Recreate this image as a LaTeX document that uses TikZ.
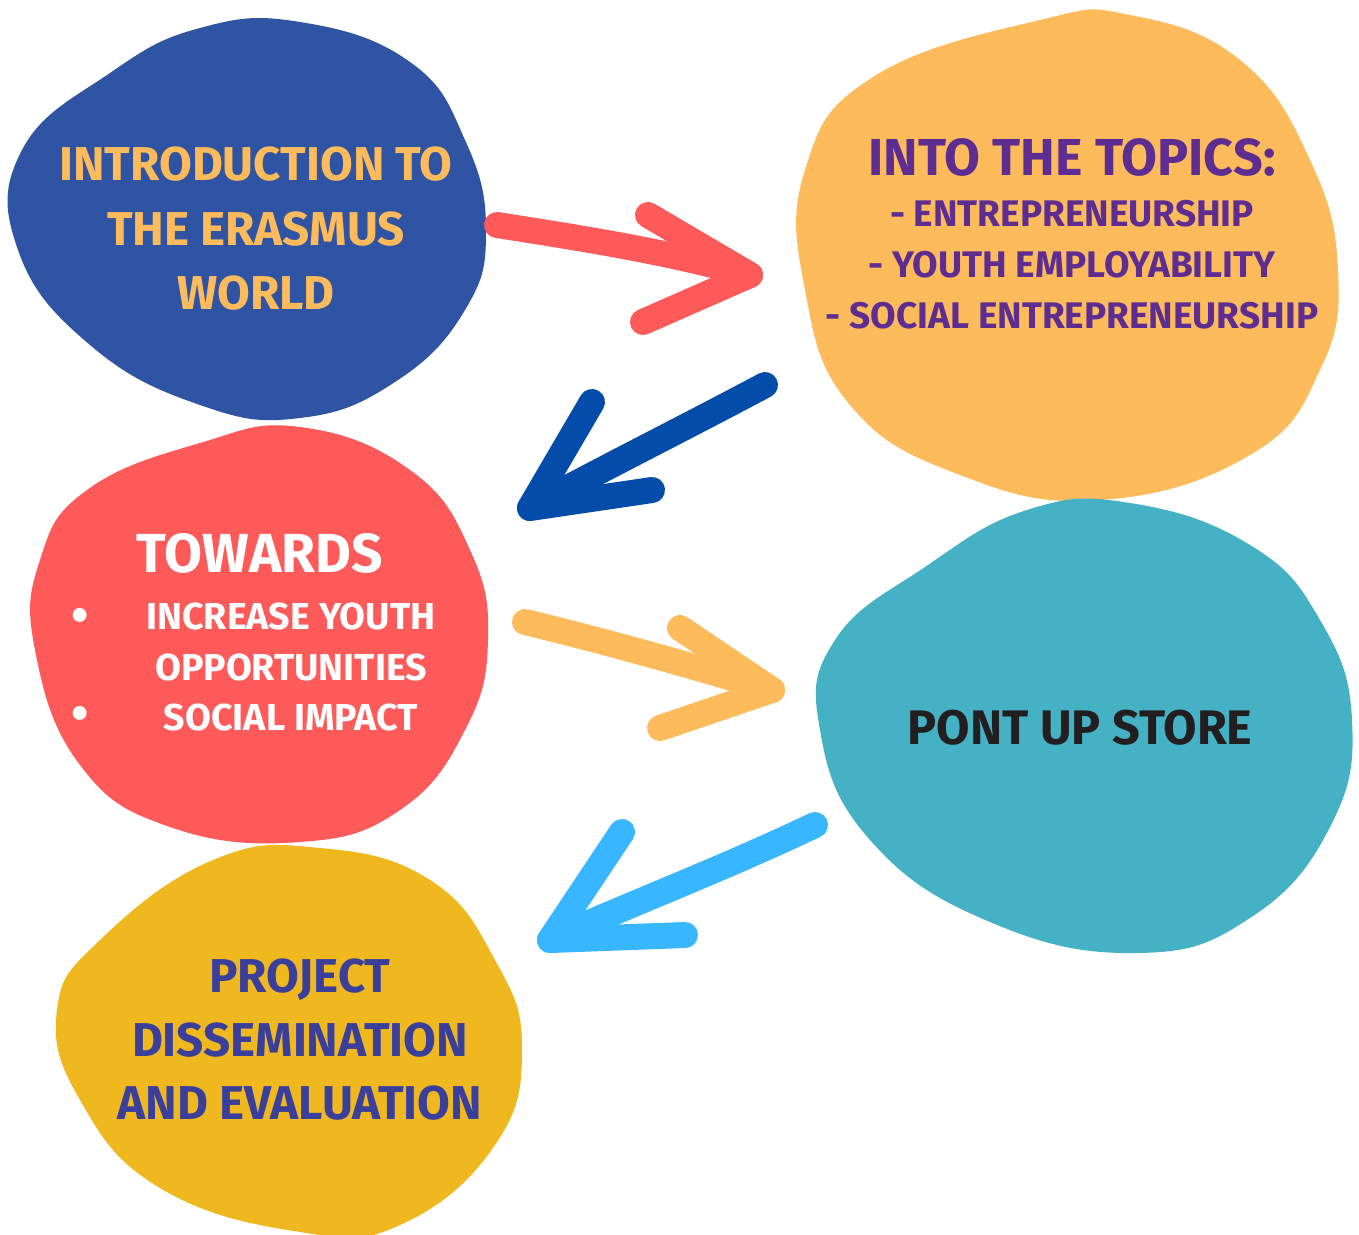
\documentclass[tikz,border=0pt]{standalone}
\usepackage{fontspec}
\setmainfont{Fira Sans}
\usetikzlibrary{positioning}
\definecolor{blobblue}{HTML}{2E54A3}
\definecolor{blobsand}{HTML}{FDBB5B}
\definecolor{blobred}{HTML}{FF5A5A}
\definecolor{blobteal}{HTML}{45B1C4}
\definecolor{blobgold}{HTML}{EEB81E}
\definecolor{arrnavy}{HTML}{034CAA}
\definecolor{arrsky}{HTML}{38B6FF}
\definecolor{txtpurple}{HTML}{5E2D91}
\definecolor{txtindigo}{HTML}{3B3F9C}
\definecolor{txtdark}{HTML}{231F20}
\tikzset{
  blob/.style={fill=#1, draw=none},
  brush/.style={line width=26pt, line cap=round, line join=round},
  label/.style={font=\bfseries\fontsize{#1}{#1}\selectfont, align=center, inner sep=0pt},
}
\begin{document}
\begin{tikzpicture}[x=1pt,y=-1pt]
\useasboundingbox (0,0) rectangle (1359,1234);

% blobs
\fill[blob=blobblue] plot[smooth cycle, tension=0.75] coordinates {
  (110,73) (200,28) (300,22) (410,62) (465,140) (486,230) (465,310) (395,382)
  (300,418) (200,405) (90,345) (18,250) (22,150)};
\fill[blob=blobsand] plot[smooth cycle, tension=0.75] coordinates {
  (873,77) (1040,20) (1130,15) (1240,60) (1310,160) (1338,270) (1320,370)
  (1250,455) (1100,500) (960,475) (850,405) (805,290) (805,170)};
\fill[blob=blobred] plot[smooth cycle, tension=0.75] coordinates {
  (87,490) (200,443) (300,427) (410,470) (470,550) (488,640) (465,730) (400,810)
  (300,842) (170,827) (80,765) (35,650) (40,560)};
\fill[blob=blobteal] plot[smooth cycle, tension=0.75] coordinates {
  (1027,510) (1130,503) (1250,545) (1320,620) (1352,720) (1330,827) (1250,918)
  (1137,953) (990,922) (870,840) (820,730) (835,640) (925,567)};
\fill[blob=blobgold] plot[smooth cycle, tension=0.75] coordinates {
  (213,860) (320,848) (430,880) (495,960) (522,1047) (495,1145) (400,1225)
  (300,1232) (160,1188) (80,1100) (57,1010) (100,940)};

% texts
\node[label=47.5, text=blobsand] (intro) at (256,229)
  {INTRODUCTION TO\\[17pt]THE ERASMUS\\[17pt]WORLD};
\node[label=52, text=txtpurple] (topics) at (1072,157) {INTO THE TOPICS:};
\node[label=37, text=txtpurple] (topiclist) at (1072,265)
  {- ENTREPRENEURSHIP\\[14pt]- YOUTH EMPLOYABILITY\\[14pt]- SOCIAL ENTREPRENEURSHIP};
\node[label=55, text=white] (towards) at (260,553) {TOWARDS};
\node[label=37.5, text=white] (goals) at (291,667)
  {INCREASE YOUTH\\[13pt]OPPORTUNITIES\\[13pt]SOCIAL IMPACT};
\node[label=50, text=white] (bulA) at (80,620) {•};
\node[label=50, text=white] (bulB) at (80,718) {•};
\node[label=48.5, text=txtdark] (store) at (1080,728) {PONT UP STORE};
\node[label=47.5, text=txtindigo] (dissem) at (300,1040)
  {PROJECT\\[16pt]DISSEMINATION\\[16pt]AND EVALUATION};

% arrows
\coordinate (redtail) at (497,225);
\coordinate (redtip) at (750,275);
\coordinate (redup) at (648,215);
\coordinate (redlow) at (643,322);
\draw[brush, blobred] (redtail) .. controls (580,238) and (670,252) .. (redtip);
\draw[brush, blobred] (redup) -- (redtip) -- (redlow);

\coordinate (navytail) at (765,385);
\coordinate (navytip) at (530,508);
\coordinate (navyup) at (592,402);
\coordinate (navylow) at (652,490);
\draw[brush, arrnavy] (navytail) .. controls (690,425) and (610,465) .. (navytip);
\draw[brush, arrnavy] (navyup) -- (navytip) -- (navylow);

\coordinate (sandtail) at (525,622);
\coordinate (sandtip) at (772,690);
\coordinate (sandup) at (680,628);
\coordinate (sandlow) at (660,728);
\draw[brush, blobsand] (sandtail) .. controls (600,640) and (690,665) .. (sandtip);
\draw[brush, blobsand] (sandup) -- (sandtip) -- (sandlow);

\coordinate (skytail) at (815,825);
\coordinate (skytip) at (550,940);
\coordinate (skyup) at (622,832);
\coordinate (skylow) at (685,935);
\draw[brush, arrsky] (skytail) .. controls (720,870) and (640,900) .. (skytip);
\draw[brush, arrsky] (skyup) -- (skytip) -- (skylow);
\end{tikzpicture}
\end{document}
